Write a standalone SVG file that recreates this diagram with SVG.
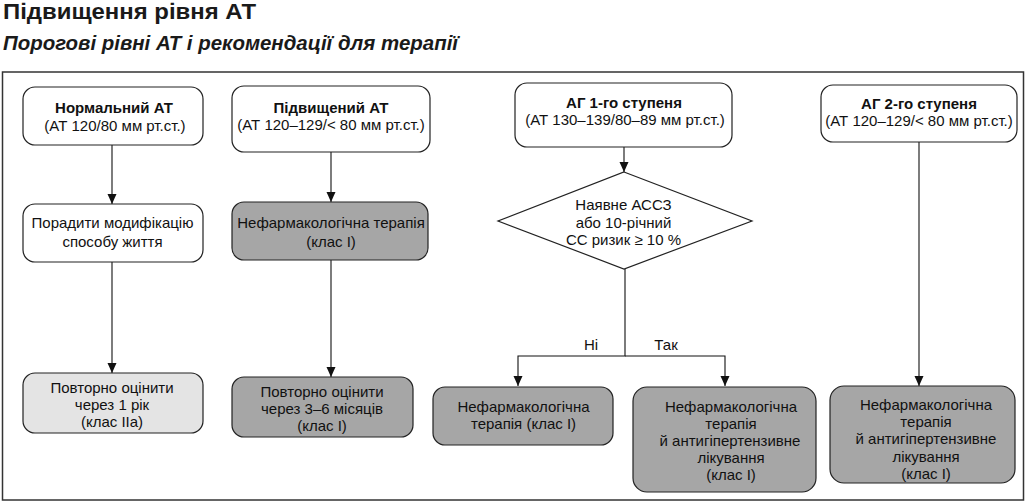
<svg xmlns="http://www.w3.org/2000/svg" width="1029" height="503" viewBox="0 0 1029 503">
<defs>
<style>
.box{stroke:#222;stroke-width:1.2;}
.w{fill:#ffffff;}
.g{fill:#a6a6a6;}
.l{fill:#e4e4e4;}
.t{font-family:"Liberation Sans",Arial,sans-serif;font-size:15px;fill:#111;text-anchor:middle;}
.b{font-weight:bold;}
.c{stroke:#111;stroke-width:1.1;fill:none;}
.h{font-family:"Liberation Sans",Arial,sans-serif;fill:#1a1a1a;font-weight:bold;}
</style>
<marker id="arr" markerUnits="userSpaceOnUse" markerWidth="10" markerHeight="10" refX="10" refY="5" orient="auto">
<path d="M0,0.5 L10,5 L0,9.5 z" fill="#111"/>
</marker>
</defs>
<rect width="1029" height="503" fill="#ffffff"/>
<text class="h" x="3" y="19" font-size="22" textLength="253" lengthAdjust="spacingAndGlyphs">Підвищення рівня АТ</text>
<text class="h" x="3" y="50" font-size="20" font-style="italic" textLength="455" lengthAdjust="spacingAndGlyphs">Порогові рівні АТ і рекомендації для терапії</text>
<rect x="2.5" y="72" width="1021" height="428" fill="none" stroke="#333" stroke-width="1.5"/>

<g id="connectors">
<line class="c" x1="112" y1="145" x2="112" y2="204" marker-end="url(#arr)"/>
<line class="c" x1="112" y1="262" x2="112" y2="373" marker-end="url(#arr)"/>
<line class="c" x1="331" y1="152" x2="331" y2="202" marker-end="url(#arr)"/>
<line class="c" x1="331" y1="260" x2="331" y2="377" marker-end="url(#arr)"/>
<line class="c" x1="624" y1="147" x2="624" y2="172" marker-end="url(#arr)"/>
<polyline class="c" points="625,269 625,356 518,356 518,386" marker-end="url(#arr)"/>
<polyline class="c" points="625,356 725,356 725,386" marker-end="url(#arr)"/>
<line class="c" x1="919" y1="142" x2="919" y2="386" marker-end="url(#arr)"/>
<text class="t" x="591" y="350">Ні</text>
<text class="t" x="666" y="350">Так</text>
</g>

<g id="normal">
<rect class="box w" x="23" y="87" width="180" height="58" rx="12"/>
<text class="t b" x="114" y="113">Нормальний АТ</text>
<text class="t" x="115" y="131">(АТ 120/80 мм рт.ст.)</text>
</g>
<g id="elevated">
<rect class="box w" x="232" y="86" width="198" height="66" rx="12"/>
<text class="t b" x="331" y="113">Підвищений АТ</text>
<text class="t" x="331" y="130">(АТ 120–129/&lt; 80 мм рт.ст.)</text>
</g>
<g id="lifestyle">
<rect class="box w" x="23" y="204" width="180" height="58" rx="12"/>
<text class="t" x="112.5" y="228">Порадити модифікацію</text>
<text class="t" x="112.5" y="246.5">способу життя</text>
</g>
<g id="nonpharm1">
<rect class="box g" x="232" y="202" width="196" height="58" rx="12"/>
<text class="t" x="331" y="228">Нефармакологічна терапія</text>
<text class="t" x="331" y="246.5">(клас I)</text>
</g>
<g id="reeval1">
<rect class="box l" x="23" y="373" width="180" height="60" rx="12"/>
<text class="t" x="112" y="393">Повторно оцінити</text>
<text class="t" x="112" y="410">через 1 рік</text>
<text class="t" x="112" y="427">(клас IIa)</text>
</g>
<g id="reeval2">
<rect class="box g" x="232" y="377" width="181" height="60" rx="12"/>
<text class="t" x="322" y="396.5">Повторно оцінити</text>
<text class="t" x="322" y="413.5">через 3–6 місяців</text>
<text class="t" x="322" y="430.5">(клас I)</text>
</g>
<g id="stage1">
<rect class="box w" x="515" y="83" width="217" height="64" rx="12"/>
<text class="t b" x="624" y="108">АГ 1-го ступеня</text>
<text class="t" x="625" y="125">(АТ 130–139/80–89 мм рт.ст.)</text>
</g>
<g id="decision">
<polygon class="box w" points="624,172 752,221 624,269 498,221"/>
<text class="t" x="623.5" y="210">Наявне АССЗ</text>
<text class="t" x="623.5" y="227.5">або 10-річний</text>
<text class="t" x="623.5" y="245">СС ризик ≥ 10 %</text>
</g>
<g id="nonpharm2">
<rect class="box g" x="433" y="387" width="180" height="58" rx="12"/>
<text class="t" x="523.5" y="411.5">Нефармакологічна</text>
<text class="t" x="523.5" y="428.5">терапія (клас I)</text>
</g>
<g id="combo1">
<rect class="box g" x="633" y="387" width="183" height="105" rx="14"/>
<text class="t" x="731" y="411.5">Нефармакологічна</text>
<text class="t" x="731" y="428.5">терапія</text>
<text class="t" x="730" y="445.5">й антигіпертензивне</text>
<text class="t" x="731" y="463">лікування</text>
<text class="t" x="731" y="480">(клас I)</text>
</g>
<g id="stage2">
<rect class="box w" x="821" y="85" width="196" height="57" rx="12"/>
<text class="t b" x="919" y="108.5">АГ 2-го ступеня</text>
<text class="t" x="919" y="126">(АТ 120–129/&lt; 80 мм рт.ст.)</text>
</g>
<g id="combo2">
<rect class="box g" x="830" y="386" width="185" height="97" rx="14"/>
<text class="t" x="926" y="410">Нефармакологічна</text>
<text class="t" x="926" y="427">терапія</text>
<text class="t" x="926" y="444">й антигіпертензивне</text>
<text class="t" x="926" y="461.5">лікування</text>
<text class="t" x="926" y="478.5">(клас I)</text>
</g>
</svg>
